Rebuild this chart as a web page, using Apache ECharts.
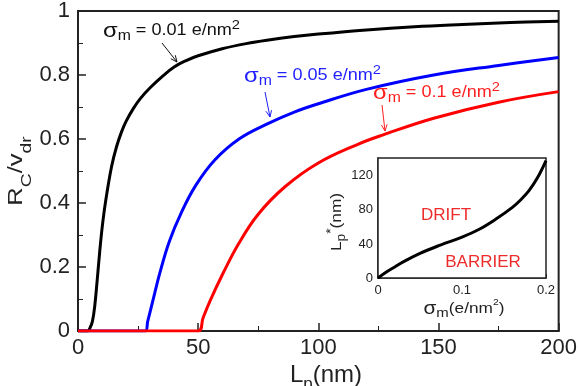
<!DOCTYPE html>
<html>
<head>
<meta charset="utf-8">
<script src="https://cdn.jsdelivr.net/npm/echarts@6/dist/echarts.min.js"></script>
<style>
  html, body { margin: 0; padding: 0; background: #fff; }
  #main { width: 580px; height: 386px; }
</style>
</head>
<body>
<div id="main"></div>
<script>
// ---- main panel: R_C/v_dr against L_p (nm), one curve per sigma_m ----
var mainXTicks = [0, 50, 100, 150, 200];
var mainYTicks = [0, 0.2, 0.4, 0.6, 0.8, 1];

var lpBlack = [0, 4, 5, 6, 7, 8, 9, 10, 11, 12, 14, 16, 18, 20, 23, 26, 30, 35, 40, 45, 50, 60, 70, 80, 90, 100, 120, 140, 160, 180, 200];
var rcBlack = [0, 0, 0.01, 0.03, 0.08, 0.16, 0.245, 0.32, 0.38, 0.43, 0.515, 0.575, 0.62, 0.655, 0.695, 0.727, 0.76, 0.795, 0.825, 0.845, 0.86, 0.882, 0.898, 0.91, 0.92, 0.928, 0.941, 0.951, 0.958, 0.964, 0.968];

var lpBlue = [0, 28, 29, 31, 34, 38, 43, 49, 57, 67, 79, 90, 100, 120, 148, 175, 200];
var rcBlue = [0, 0, 0.03, 0.09, 0.18, 0.28, 0.37, 0.455, 0.535, 0.6, 0.648, 0.684, 0.71, 0.755, 0.8, 0.83, 0.855];

var lpRed = [0, 50, 52, 55, 60, 67, 75, 86, 100, 116, 127, 148, 175, 200];
var rcRed = [0, 0, 0.04, 0.095, 0.175, 0.275, 0.365, 0.45, 0.525, 0.582, 0.613, 0.665, 0.715, 0.748];

// ---- inset: L_p* (nm) against sigma_m (e/nm^2) ----
var insetXTicks = [0, 0.1, 0.2];
var insetYTicks = [0, 40, 80, 120];
var sigma = [0, 0.01, 0.02, 0.03, 0.05, 0.075, 0.1, 0.12, 0.14, 0.16, 0.17, 0.18, 0.19, 0.2];
var lpStar = [0, 7, 13, 19, 29, 39, 48, 57, 69, 83, 92, 103, 118, 138];

function zip(xs, ys) {
  return xs.map(function (x, i) { return [x, ys[i]]; });
}

var FONT = '"Liberation Sans", Arial, sans-serif';
var INK = '#222';

// text with sub/superscripts, stretched a bit like the original figure
function label(x, y, text, opts) {
  var fs = opts.size;
  return {
    type: 'text', x: x, y: y, z: 100,
    rotation: opts.rot || 0,
    scaleX: opts.sx || 1,
    style: {
      text: text,
      fill: opts.color || INK,
      align: opts.align || 'left',
      verticalAlign: 'middle',
      fontFamily: FONT,
      fontSize: fs,
      rich: {
        g: { fontSize: opts.g || fs, lineHeight: opts.lh, fontFamily: FONT },
        t: { fontSize: fs, lineHeight: opts.lh, fontFamily: FONT },
        sub: { fontSize: opts.sub, lineHeight: opts.subLh, verticalAlign: 'bottom', fontFamily: FONT },
        sup: { fontSize: opts.sup || opts.sub, lineHeight: opts.subLh, verticalAlign: 'top', fontFamily: FONT }
      }
    }
  };
}

function arrow(x1, y1, x2, y2, color) {
  var a = Math.atan2(y2 - y1, x2 - x1), h = 7, w = 0.42;
  return [
    { type: 'line', z: 100, shape: { x1: x1, y1: y1, x2: x2, y2: y2 }, style: { stroke: color, lineWidth: 1 } },
    { type: 'polyline', z: 100, shape: { points: [
        [x2 - h * Math.cos(a - w), y2 - h * Math.sin(a - w)], [x2, y2],
        [x2 - h * Math.cos(a + w), y2 - h * Math.sin(a + w)]] },
      style: { stroke: color, lineWidth: 1, fill: null } }
  ];
}

var annot = { size: 16, g: 21, lh: 24, sub: 14, sup: 13, subLh: 14, sx: 1.13 };
function withColor(o, c) { var r = {}; for (var k in o) r[k] = o[k]; r.color = c; return r; }

var graphics = [
  label(103, 31, '{g|σ}{sub|m}{t| = 0.01 e/nm}{sup|2}', withColor(annot, '#111')),
  label(244, 76, '{g|σ}{sub|m}{t| = 0.05 e/nm}{sup|2}', withColor(annot, '#1f1fff')),
  label(373, 93, '{g|σ}{sub|m}{t| = 0.1 e/nm}{sup|2}', withColor(annot, '#ff1f1f')),
  // axis titles
  label(16, 171, '{t|R}{sub|C}{t|/v}{sub|dr}', { size: 20, lh: 36, sub: 15, subLh: 15, sx: 1.28, rot: Math.PI / 2, align: 'center' }),
  label(326, 375, '{t|L}{sub|p}{t|(nm)}', { size: 24, lh: 35, sub: 17, subLh: 17, align: 'center' }),
  // inset titles and region names
  label(337, 222, '{t|L}{sub|p}{sup|*}{t|(nm)}', { size: 15, lh: 22, sub: 12, subLh: 11, sx: 1.15, rot: Math.PI / 2, align: 'center' }),
  label(464, 309, '{g|σ}{sub|m}{t|(e/nm}{sup|2}{t|)}', { size: 15, g: 18, lh: 22, sub: 13, sup: 9, subLh: 12, sx: 1.15, align: 'center' }),
  { type: 'text', x: 446, y: 215, z: 100, style: { text: 'DRIFT', fill: '#ee2b2b', fontFamily: FONT, fontSize: 17, align: 'center', verticalAlign: 'middle' } },
  { type: 'text', x: 483, y: 262, z: 100, style: { text: 'BARRIER', fill: '#ee2b2b', fontFamily: FONT, fontSize: 17, align: 'center', verticalAlign: 'middle' } }
].concat(
  arrow(162, 43, 177, 62, '#111'),
  arrow(265, 92, 270, 117, '#1f1fff'),
  arrow(382, 105, 385, 131, '#ff1f1f')
);

function valueAxis(idx, ticks, opts) {
  return {
    type: 'value', gridIndex: idx,
    min: ticks[0], max: opts.max !== undefined ? opts.max : ticks[ticks.length - 1],
    interval: ticks[1] - ticks[0],
    splitLine: { show: false },
    axisLine: { show: true, onZero: false, lineStyle: { color: INK, width: opts.lw } },
    axisTick: { show: true, inside: true, length: opts.tick, lineStyle: { color: INK, width: opts.lw > 1.5 ? 1.5 : 1 } },
    minorTick: { show: true, splitNumber: 2, length: opts.minor, lineStyle: { color: INK, width: 1 } },
    axisLabel: { color: INK, fontFamily: FONT, fontSize: opts.font, margin: opts.margin, showMaxLabel: opts.showMax !== false }
  };
}

var chart = echarts.init(document.getElementById('main'), null, { renderer: 'canvas' });

function line(xi, xs, ys, color, z) {
  return {
    type: 'line', xAxisIndex: xi, yAxisIndex: xi, data: zip(xs, ys),
    showSymbol: false, smooth: 0.4, z: z || 2,
    lineStyle: { color: color, width: 3 }
  };
}

var option = {
  animation: false,
  backgroundColor: '#fff',
  grid: [
    { left: 78, top: 10, right: 17, bottom: 55, show: true, borderColor: INK, borderWidth: 2, backgroundColor: 'transparent' },
    { left: 378, top: 158, width: 168, height: 120, show: true, borderColor: INK, borderWidth: 1.5, backgroundColor: '#fff', z: 10 }
  ],
  xAxis: [
    valueAxis(0, mainXTicks, { lw: 2, tick: 8, minor: 5, font: 22, margin: 6 }),
    valueAxis(1, insetXTicks, { lw: 1.5, tick: 4, minor: 3, font: 13, margin: 6 })
  ],
  yAxis: [
    valueAxis(0, mainYTicks, { lw: 2, tick: 8, minor: 5, font: 22, margin: 8 }),
    valueAxis(1, insetYTicks, { lw: 1.5, tick: 4, minor: 3, font: 13, margin: 5, max: 141, showMax: false })
  ],
  series: [
    line(0, lpBlack, rcBlack, '#000'),
    line(0, lpBlue, rcBlue, '#0000ff'),
    line(0, lpRed, rcRed, '#ff0000'),
    line(1, sigma, lpStar, '#000', 12)
  ],
  graphic: graphics
};

chart.setOption(option);
</script>
</body>
</html>
